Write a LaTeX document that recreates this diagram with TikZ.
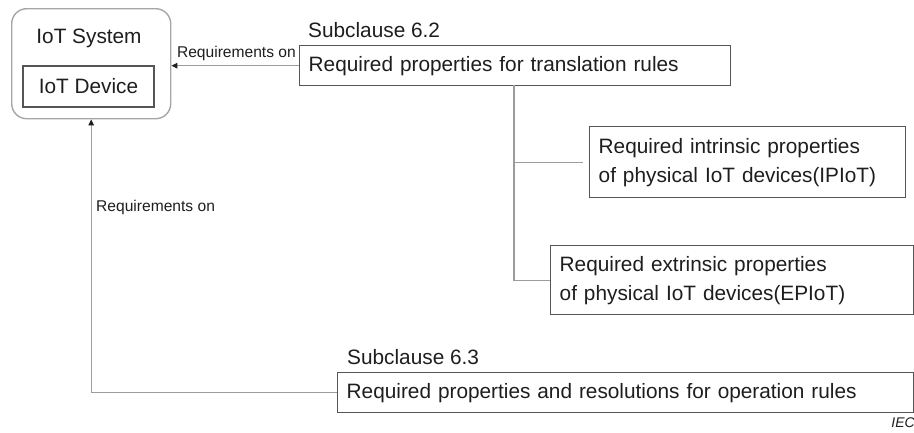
\documentclass[tikz,border=0pt]{standalone}
\usepackage{fontspec}
\setmainfont{Liberation Sans}
\usetikzlibrary{arrows.meta}
\definecolor{boxline}{HTML}{555555}
\definecolor{outerline}{HTML}{A6A6A6}
\definecolor{linkline}{HTML}{9C9C9C}
\definecolor{ink}{HTML}{1E1E1E}
\tikzset{
  x=1pt, y=-1pt,
  every node/.style={text=ink},
  mainfont/.style={font=\fontsize{20.8}{29}\selectfont},
  smallfont/.style={font=\fontsize{15.6}{18}\selectfont},
  propbox/.style={draw=boxline, line width=1.4pt, anchor=north west, align=left,
    inner xsep=9pt, inner ysep=0pt, mainfont},
  link/.style={draw=linkline, line width=1.3pt},
  reqarrow/.style={link, -{Triangle[length=6pt,width=5.5pt,fill=ink,color=ink]}},
}
\begin{document}
\begin{tikzpicture}
  \useasboundingbox (0,0) rectangle (914,432);
  \fill[white] (0,0) rectangle (914,432);

  % IoT system with its device
  \node[draw=outerline, line width=1.4pt, rounded corners=15pt, anchor=north west,
        minimum width=159pt, minimum height=110pt, inner sep=0pt] (sys) at (11,8) {};
  \node[mainfont, anchor=center] (systext) at (89,38) {IoT System};
  \node[draw=boxline, line width=2pt, anchor=north west, minimum width=131pt,
        minimum height=41pt, inner sep=0pt, mainfont] (dev) at (22,65) {IoT Device};

  % Subclause 6.2
  \node[mainfont, anchor=west, inner sep=0pt] (sub62) at (308,30) {Subclause 6.2};
  \node[propbox, text width=413pt, minimum height=40pt] (trans) at (299,45)
    {Required properties for translation rules};
  \node[propbox, text width=298pt, minimum height=71pt] (ipiot) at (589,126)
    {Required intrinsic properties\\of physical IoT devices(IPIoT)};
  \node[propbox, text width=345pt, minimum height=69pt] (epiot) at (550,245)
    {Required extrinsic properties\\of physical IoT devices(EPIoT)};

  % Subclause 6.3
  \node[mainfont, anchor=west, inner sep=0pt] (sub63) at (347,357) {Subclause 6.3};
  \node[propbox, text width=558pt, minimum height=40pt] (oper) at (337,372)
    {Required properties and resolutions for operation rules};

  % Tree from the translation rules box to its two parts
  \coordinate (trunk) at (514,85);
  \draw[link] (trunk) -- (trunk |- epiot.west) -- (epiot.west);
  \draw[link, shorten >=6pt] (trunk |- ipiot.west) -- (ipiot.west);

  % Requirements on the IoT system
  \draw[reqarrow] (trans.west) -- (trans.west -| sys.east);
  \node[smallfont, anchor=east, inner sep=0pt] (req1) at (296,53) {Requirements on};
  \draw[reqarrow] (oper.west) -| (sys.south);
  \node[smallfont, anchor=west, inner sep=0pt] (req2) at (96,207) {Requirements on};

  \node[font=\fontsize{14}{16}\selectfont\itshape, anchor=east, inner sep=0pt] (iec) at (915,423) {IEC};
\end{tikzpicture}
\end{document}
